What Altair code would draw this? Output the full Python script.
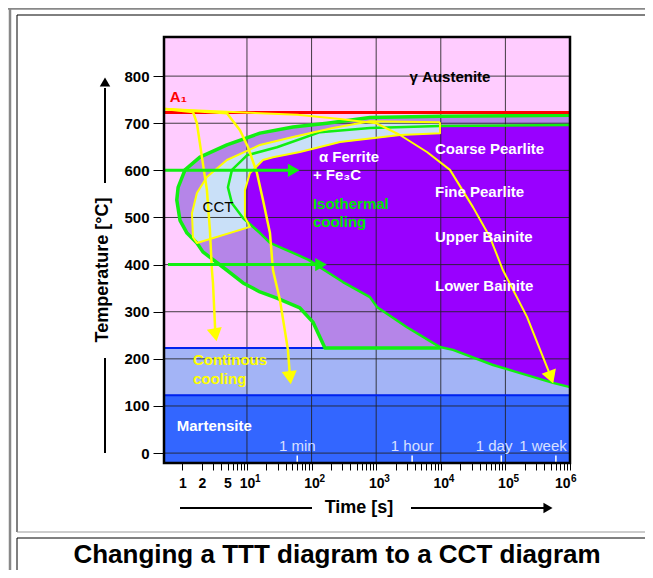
import altair as alt
import pandas as pd

FONT = "Liberation Sans"

# ---------------- axes ----------------
t_domain = [0.52, 1e6]            # time [s] (log)
T_domain = [-21, 883]             # temperature [°C]
t_tick_values = [m * 10 ** k for k in range(6) for m in range(1, 10)] + [10 ** 6]
t_label_values = [1, 2, 5, 10, 100, 1000, 10000, 100000, 1000000]
t_label_texts = ["1", "2", "5", "10", "10", "10", "10", "10", "10"]
t_exp_values = [10, 100, 1000, 10000, 100000]
t_exp_texts = ["1", "2", "3", "4", "5"]
t_last_exp_value = [1000000]
t_last_exp_text = ["6"]
T_tick_values = [0, 100, 200, 300, 400, 500, 600, 700, 800]
t_grid = [10, 100, 1000, 10000, 100000]

# ---------------- characteristic temperatures ----------------
A1_T = 723
Ms_T = 223
Mf_T = 123

# ---------------- TTT start curve (outer C) ----------------
start_t = [1e6, 9720, 801, 173, 51.5, 15.9, 4.9, 1.87, 1.1, 0.86, 0.82, 0.92, 1.18, 1.68,
           2.08, 4.9, 8.7, 15.9, 29.1, 66, 105, 135, 161, 9720]
start_T = [717, 715, 712, 700, 692, 679, 654, 628, 601, 564, 537, 494, 467, 446,
           427, 388, 361, 342, 329, 308, 278, 246, 223, 223]

# ---------------- TTT finish curve (inner C) ----------------
finish_t = [1e6, 9720, 801, 135, 29.1, 10, 5.86, 5.08, 5.86, 8.7, 15.9, 22.7, 51.5, 90,
            150, 306, 801, 1028, 2997, 9720, 15450, 64300, 546000, 1e6]
finish_T = [696, 694, 690, 681, 649, 632, 601, 564, 530, 499, 467, 446, 425, 410,
            390, 363, 331, 310, 267, 225, 219, 187, 149, 140]

# ---------------- CCT region ----------------
cct_outer_t = [9720, 801, 214, 51.5, 15.9, 4.9, 2.4, 1.68, 1.41, 1.46, 1.68]
cct_outer_T = [702, 704, 690, 671, 654, 622, 586, 552, 509, 458, 446]
cct_inner_t = [11.1, 9.3, 9.3, 11.1, 17.7, 25.3, 66, 275, 2335, 9720]
cct_inner_T = [480, 501, 558, 594, 622, 628, 639, 660, 675, 679]

# ---------------- continuous cooling curves ----------------
cool1_t = [0.54, 1.46, 1.68, 2.01, 2.4, 2.67, 2.87, 2.98, 3.25]
cool1_T = [730, 724, 700, 628, 558, 473, 388, 361, 251]
cool2_t = [0.54, 4.9, 7.8, 10.4, 14.3, 17.7, 22.7, 25.3, 32.4, 43.1, 46.4]
cool2_T = [730, 721, 685, 649, 594, 537, 467, 388, 325, 219, 160]
cool3_t = [0.54, 60, 275, 1000, 2335, 6110, 13880, 31500, 57800, 91800, 216000, 508000]
cool3_T = [730, 718, 709, 700, 675, 639, 601, 522, 458, 388, 289, 161]
cool_head_t = [3.25, 46.4, 508000]
cool_head_T = [251, 160, 161]
cool_head_angle = [350, 353, 340]

# ---------------- isothermal arrows ----------------
iso_T = [600, 400]
iso_t0 = [0.54, 0.6]
iso_head_t = [53, 140]

# ---------------- time marks ----------------
mark_t = [60, 3600, 86400, 604800]
mark_text_t = [60, 3600, 66700, 382000]
mark_texts = ["1 min", "1 hour", "1 day", "1 week"]

# ---------------- labels ----------------
white_texts = ["Coarse Pearlite", "Fine Pearlite", "Upper Bainite", "Lower Bainite",
               "α Ferrite", "+ Fe₃C", "Martensite"]
white_t = [8130, 8130, 8130, 8130, 130, 105, 0.82]
white_T = [645, 554, 458, 354, 628, 590, 57]
green_texts = ["Isothermal", "cooling"]
green_t = [105, 105]
green_T = [528, 490]
yellow_texts = ["Continous", "cooling"]
yellow_t = [1.46, 1.46]
yellow_T = [197, 157]

# ---------------- colours ----------------
PINK = "#ffccff"
PURPLE = "#9900ff"
PURPLE_HATCH = "#b585e8"
CCT_HATCH = "#c9e0f8"
BAND_HATCH = "#a3b4f6"
MART_BLUE = "#3366ff"
GREEN = "#11ee11"
YELLOW = "#ffff00"

# ---------------- scales / encodings ----------------
xscale = alt.Scale(type="log", domain=t_domain, nice=False)
yscale = alt.Scale(domain=T_domain, nice=False, zero=False)

label_expr = "".join(
    f"datum.value == {v} ? '{s}' : " for v, s in zip(t_label_values, t_label_texts)
) + "''"

xaxis = alt.Axis(values=t_tick_values, labelExpr=label_expr, title=None, grid=False,
                 domain=False, tickSize=7, tickColor="black", labelPadding=6,
                 labelFont=FONT, labelFontSize=14, labelFontWeight="bold",
                 labelColor="black", labelOverlap=False)
yaxis = alt.Axis(values=T_tick_values, title=None, grid=False, domain=False,
                 tickSize=11, tickColor="black", labelPadding=4, labelFont=FONT,
                 labelFontSize=15, labelFontWeight="bold", labelColor="black")


def X(field="t"):
    return alt.X(f"{field}:Q", scale=xscale, axis=xaxis)


def Y(field="T"):
    return alt.Y(f"{field}:Q", scale=yscale, axis=yaxis)


def pts(ts, Ts):
    return pd.DataFrame({"t": ts, "T": Ts, "i": list(range(len(ts)))})


def polygon(ts, Ts, fill):
    return alt.Chart(pts(ts, Ts)).mark_line(fill=fill, stroke=fill, strokeWidth=0.5).encode(
        X(), Y(), order="i:Q")


def polyline(ts, Ts, color, width):
    return alt.Chart(pts(ts, Ts)).mark_line(color=color, strokeWidth=width,
                                            strokeJoin="round").encode(X(), Y(), order="i:Q")


# ---------------- region polygons ----------------
k = finish_t.index(15450)
tail_t, tail_T = finish_t[k:], finish_T[k:]

band_t = [t_domain[0], t_domain[1]] + tail_t[::-1] + [9720, t_domain[0]]
band_T = [Mf_T, Mf_T] + tail_T[::-1] + [Ms_T, Ms_T]
mart_t = [t_domain[0], t_domain[1], t_domain[1], t_domain[0]]
mart_T = [T_domain[0], T_domain[0], Mf_T, Mf_T]
outer_t = start_t + tail_t
outer_T = start_T + tail_T
cct_t = cct_outer_t + cct_inner_t
cct_T = cct_outer_T + cct_inner_T

layers = [
    polygon(band_t, band_T, BAND_HATCH),
    polygon(mart_t, mart_T, MART_BLUE),
    polygon(outer_t, outer_T, PURPLE_HATCH),
    polygon(finish_t, finish_T, PURPLE),
    polygon(cct_t, cct_T, CCT_HATCH),
]

# grid
layers.append(alt.Chart(pd.DataFrame({"t": t_grid})).mark_rule(
    color="#222222", strokeWidth=1, opacity=0.85).encode(x=X()))
layers.append(alt.Chart(pd.DataFrame({"T": T_tick_values})).mark_rule(
    color="#222222", strokeWidth=1, opacity=0.85).encode(y=Y()))

# Ms / Mf lines
layers.append(alt.Chart(pd.DataFrame({"t": [t_domain[0], t_domain[0]], "t2": [t_domain[1], 161],
                                      "T": [Mf_T, Ms_T]})).mark_rule(
    color="#0022ee", strokeWidth=2).encode(x=X(), x2="t2:Q", y=Y()))

# green TTT curves
layers.append(polyline(finish_t, finish_T, GREEN, 2.5))
layers.append(polyline(start_t, start_T, GREEN, 3.5))

# A1 line
layers.append(alt.Chart(pd.DataFrame({"T": [A1_T]})).mark_rule(
    color="#ff0000", strokeWidth=3).encode(y=Y()))

# CCT outline
layers.append(polyline(cct_t + [cct_t[0]], cct_T + [cct_T[0]], YELLOW, 2))

# cooling curves
layers.append(polyline(cool1_t, cool1_T, YELLOW, 2.5))
layers.append(polyline(cool2_t, cool2_T, YELLOW, 2.5))
layers.append(polyline(cool3_t, cool3_T, YELLOW, 2))
layers.append(alt.Chart(pd.DataFrame({"t": cool_head_t, "T": cool_head_T, "a": cool_head_angle}))
              .mark_point(shape="triangle-down", filled=True, size=230, color=YELLOW, opacity=1)
              .encode(X(), Y(), angle=alt.Angle("a:Q", scale=None)))

# isothermal arrows
layers.append(alt.Chart(pd.DataFrame({"t": iso_t0, "t2": iso_head_t, "T": iso_T})).mark_rule(
    color=GREEN, strokeWidth=3).encode(x=X(), x2="t2:Q", y=Y()))
layers.append(alt.Chart(pd.DataFrame({"t": iso_head_t, "T": iso_T})).mark_point(
    shape="triangle-right", filled=True, size=180, color=GREEN, opacity=1).encode(X(), Y()))

# time marks
layers.append(alt.Chart(pd.DataFrame({"t": mark_t, "T": [-19] * 4, "T2": [-5] * 4})).mark_rule(
    color="white", strokeWidth=1.5).encode(x=X(), y=Y(), y2="T2:Q"))
layers.append(alt.Chart(pd.DataFrame({"t": mark_text_t, "T": [15] * 4, "txt": mark_texts})).mark_text(
    font=FONT, fontSize=15, color="#d8e0ff", align="center", baseline="middle").encode(
    X(), Y(), text="txt:N"))

# region labels
layers.append(alt.Chart(pd.DataFrame({"t": white_t, "T": white_T, "txt": white_texts})).mark_text(
    font=FONT, fontSize=15, fontWeight="bold", color="white", align="left",
    baseline="middle").encode(X(), Y(), text="txt:N"))
layers.append(alt.Chart(pd.DataFrame({"t": green_t, "T": green_T, "txt": green_texts})).mark_text(
    font=FONT, fontSize=15, fontWeight="bold", color="#00e600", align="left",
    baseline="middle").encode(X(), Y(), text="txt:N"))
layers.append(alt.Chart(pd.DataFrame({"t": yellow_t, "T": yellow_T, "txt": yellow_texts})).mark_text(
    font=FONT, fontSize=15, fontWeight="bold", color=YELLOW, align="left",
    baseline="middle").encode(X(), Y(), text="txt:N"))
layers.append(alt.Chart(pd.DataFrame({"t": [3.56], "T": [522], "txt": ["CCT"]})).mark_text(
    font=FONT, fontSize=15, color="black", align="center", baseline="middle").encode(
    X(), Y(), text="txt:N"))
layers.append(alt.Chart(pd.DataFrame({"t": [13870], "T": [798], "txt": ["γ Austenite"]})).mark_text(
    font=FONT, fontSize=15, fontWeight="bold", color="black", align="center",
    baseline="middle").encode(X(), Y(), text="txt:N"))
layers.append(alt.Chart(pd.DataFrame({"t": [0.64], "T": [755], "txt": ["A₁"]})).mark_text(
    font=FONT, fontSize=15, fontWeight="bold", color="#ff0000", align="left",
    baseline="middle").encode(X(), Y(), text="txt:N"))

# x-axis exponents (superscripts of the 10^n labels)
layers.append(alt.Chart(pd.DataFrame({"t": t_exp_values, "txt": t_exp_texts})).mark_text(
    font=FONT, fontSize=10, fontWeight="bold", color="black", align="left", baseline="middle",
    dx=8).encode(x=X(), y=alt.value(442), text="txt:N"))
layers.append(alt.Chart(pd.DataFrame({"t": t_last_exp_value, "txt": t_last_exp_text})).mark_text(
    font=FONT, fontSize=10, fontWeight="bold", color="black", align="left", baseline="middle",
    dx=1).encode(x=X(), y=alt.value(442), text="txt:N"))


# ---------------- decorations (pixel positions relative to the plot area) ----------------
ONE = alt.Data(values=[{}])


def rule(x, y, x2=None, y2=None, color="black", width=1):
    enc = dict(x=alt.value(x), y=alt.value(y))
    if x2 is not None:
        enc["x2"] = alt.value(x2)
    if y2 is not None:
        enc["y2"] = alt.value(y2)
    return alt.Chart(ONE).mark_rule(color=color, strokeWidth=width).encode(**enc)


def text(x, y, s, **kw):
    return alt.Chart(ONE).mark_text(text=s, font=FONT, **kw).encode(
        x=alt.value(x), y=alt.value(y))


def head(x, y, shape, size):
    return alt.Chart(ONE).mark_point(shape=shape, filled=True, size=size, color="black",
                                     opacity=1).encode(x=alt.value(x), y=alt.value(y))


# plot frame
layers.append(alt.Chart(ONE).mark_rect(fillOpacity=0, stroke="black", strokeWidth=2.5).encode(
    x=alt.value(0), x2=alt.value(406), y=alt.value(0), y2=alt.value(426)))

# page frame
layers += [
    rule(-156, -28.5, x2=490, color="#888888", width=2.5),
    rule(-154, -30, y2=545, color="#888888", width=2.5),
    rule(-147, -22, x2=490, color="black", width=1),
    rule(-147, -22, y2=495, color="black", width=1),
    rule(-147, 495, x2=490, color="#999999", width=1),
    rule(-147, 501, x2=490, color="black", width=1),
    rule(-147, 501, y2=545, color="black", width=1),
]

# axis titles with arrows
layers += [
    text(-61, 233, "Temperature [°C]", angle=270, fontSize=18, fontWeight="bold",
         align="center", baseline="middle"),
    rule(-59, 321, y2=416, width=2),
    rule(-59, 51, y2=146, width=2),
    head(-59, 45, "triangle-up", 110),
    text(195, 471, "Time  [s]", fontSize=18, fontWeight="bold", align="center",
         baseline="middle"),
    rule(16, 471, x2=148, width=2),
    rule(247, 471, x2=381, width=2),
    head(384, 471, "triangle-right", 110),
    text(173, 526, "Changing a TTT diagram to a CCT diagram", fontSize=26,
         fontWeight="bold", align="center", baseline="alphabetic"),
]

chart = alt.layer(*layers).properties(
    width=406, height=426,
    autosize=alt.AutoSizeParams(type="none"),
    padding={"left": 156, "top": 29, "right": 75, "bottom": 107},
    background="white",
).configure_view(stroke=None, fill=PINK)

chart.save("out.html", embed_options={"renderer": "svg", "actions": False})
